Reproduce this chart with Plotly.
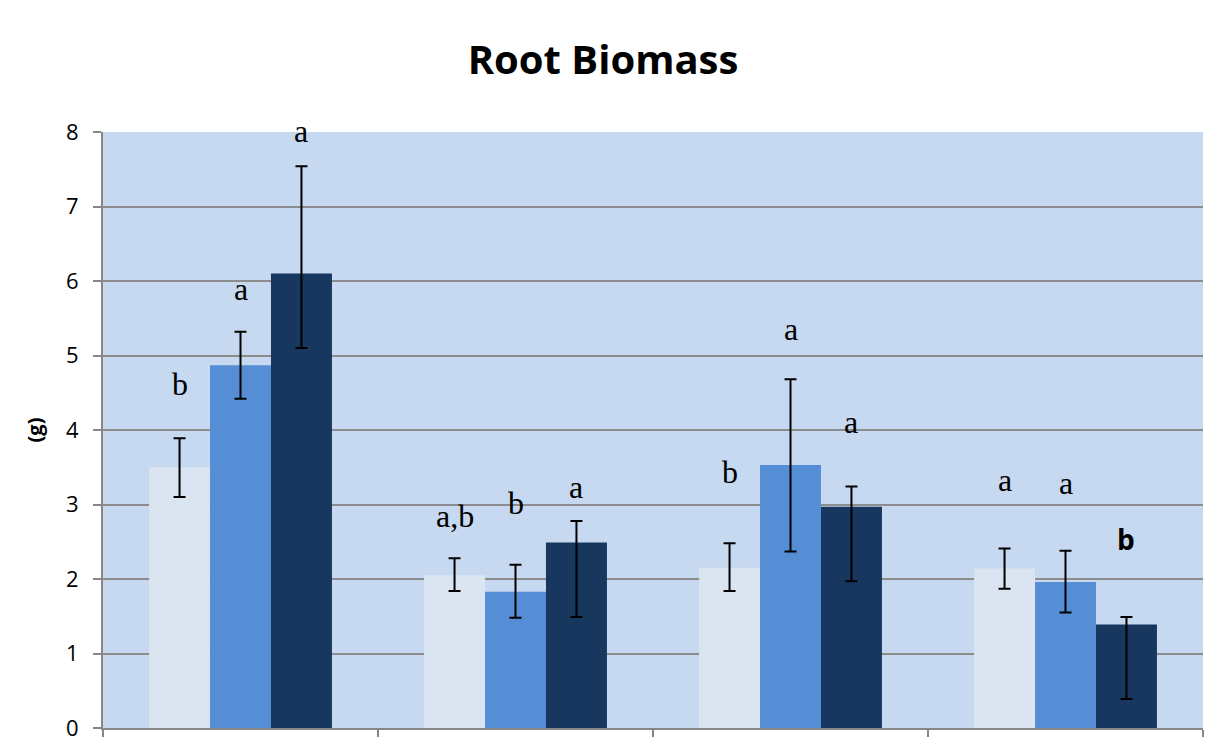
import plotly.graph_objects as go

groups = [0, 1, 2, 3]
series_names = ["Series 1", "Series 2", "Series 3"]
values = [
    [3.50, 2.05, 2.15, 2.14],
    [4.87, 1.83, 3.53, 1.96],
    [6.10, 2.49, 2.97, 1.39],
]
err_plus = [
    [0.39, 0.23, 0.33, 0.27],
    [0.45, 0.36, 1.15, 0.42],
    [1.44, 0.29, 0.27, 0.10],
]
err_minus = [
    [0.40, 0.21, 0.31, 0.27],
    [0.45, 0.35, 1.16, 0.41],
    [1.00, 1.00, 1.00, 1.00],
]
colors = ["#DBE5F1", "#558ED5", "#17375E"]

letters = [
    ["b", "a,b", "b", "a"],
    ["a", "b", "a", "a"],
    ["a", "a", "a", "b"],
]
letter_y = [
    [4.62, 2.84, 3.43, 3.33],
    [5.89, 3.02, 5.35, 3.29],
    [8.02, 3.23, 4.11, 2.54],
]
y_max = 8

bargap = 0.335
bw = (1 - bargap) / 3

fig = go.Figure()
for s in range(3):
    fig.add_trace(go.Bar(
        x=groups, y=values[s], name=series_names[s],
        marker=dict(color=colors[s], line=dict(width=0)),
        error_y=dict(type="data", symmetric=False, array=err_plus[s],
                     arrayminus=err_minus[s], color="black", thickness=2, width=6),
        showlegend=False,
    ))

for s in range(3):
    for g in groups:
        lab = letters[s][g]
        special = (s == 2 and g == 3)
        fig.add_annotation(
            x=g + (s - 1) * bw, y=letter_y[s][g] / y_max,
            text=f"<b>{lab}</b>" if special else lab, showarrow=False,
            xref="x", yref="paper", yanchor="middle",
            font=dict(family="Open Sans" if special else "Liberation Serif",
                      size=28 if special else 32, color="black"),
        )

fig.update_layout(
    width=1206, height=752,
    margin=dict(l=103, r=3, t=132, b=24),
    paper_bgcolor="white", plot_bgcolor="#C6D9F0",
    barmode="group", bargap=bargap, bargroupgap=0,
    title=dict(text="<b>Root Biomass</b>", x=0.5, xanchor="center", y=0.92, yanchor="middle",
               font=dict(family="Open Sans", size=40, color="black")),
    xaxis=dict(range=[-0.5, 3.5], tickvals=[-0.5, 0.5, 1.5, 2.5, 3.5],
               ticktext=["", "", "", "", ""], ticks="outside", ticklen=7,
               tickcolor="#868686", tickwidth=2, showgrid=False, zeroline=False,
               showline=True, linecolor="#868686", linewidth=2),
    yaxis=dict(range=[0, y_max], dtick=1, ticks="outside", ticklen=8, tickcolor="#868686",
               tickwidth=2, showgrid=True, gridcolor="#8C8C8C", gridwidth=2,
               zeroline=False, showline=True, linecolor="#868686", linewidth=2,
               tickfont=dict(family="Open Sans", size=22, color="black"),
               ticklabelstandoff=10,
               title=dict(text="<b>(g)</b>", font=dict(family="Open Sans", size=20, color="black"),
                          standoff=18)),
)

fig.write_html("out.html", config={"displayModeBar": False},
               post_script="document.body.style.margin='0';document.body.style.overflow='hidden';")
